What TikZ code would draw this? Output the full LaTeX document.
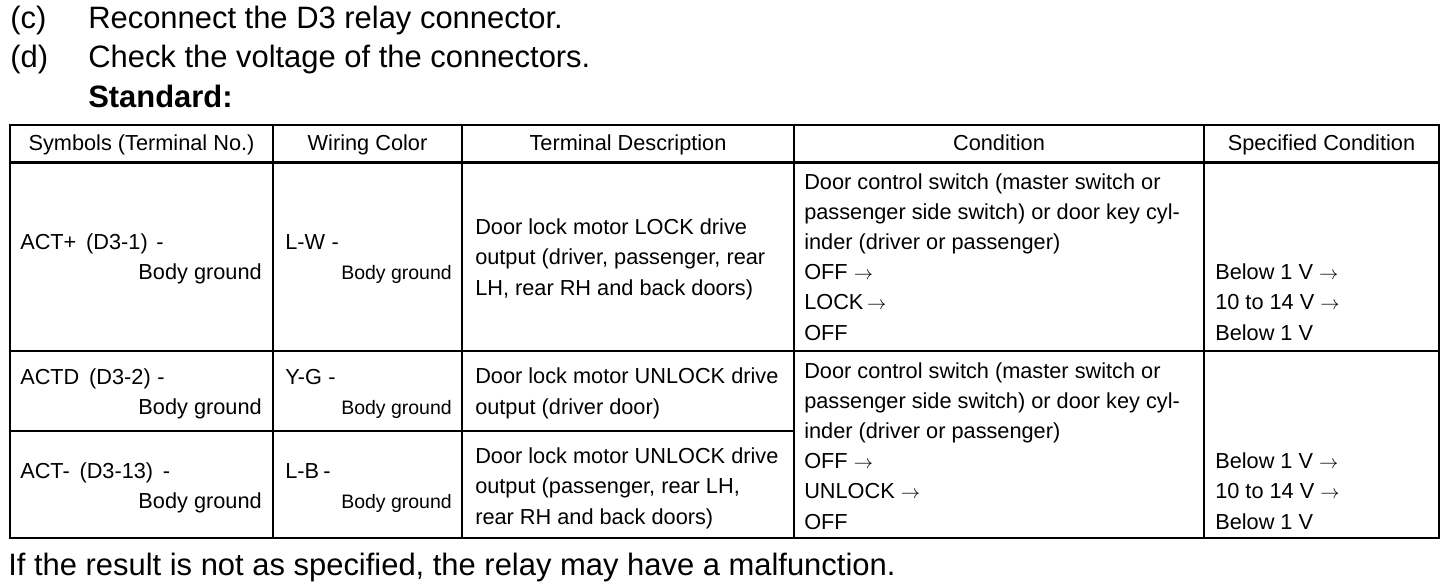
\documentclass[tikz,border=0pt]{standalone}
\usepackage{fontspec}
\setmainfont{Liberation Sans}
\usetikzlibrary{positioning}
\newcommand{\arr}{{\fontsize{13.5}{13.5}\selectfont$\rightarrow$}}
\begin{document}
\begin{tikzpicture}
            [x = 0.75pt, y = -0.75pt,
             big/.style = {anchor = base west, inner sep = 0pt, font = \fontsize{23.2}{29}\selectfont},
             cell/.style = {anchor = base west, inner sep = 0pt, align = left, font = \fontsize{16.3}{22.65}\selectfont},
             gnd/.style = {anchor = base east, inner sep = 0pt, font = \fontsize{16.3}{22.65}\selectfont},
             sgnd/.style = {anchor = base east, inner sep = 0pt, font = \fontsize{14.6}{22.65}\selectfont},
             head/.style = {anchor = base, inner sep = 0pt, font = \fontsize{16.3}{22.65}\selectfont},
             rule/.style = {line width = 1.8pt}]
            \useasboundingbox (0,0) rectangle (1456,588);
            % instructions
            \node[big] (c) at (10,29) {(c)};
            \node[big] (ctext) at (88,29) {Reconnect the D3 relay connector.};
            \node[big] (d) at (10,68) {(d)};
            \node[big] (dtext) at (88,68) {Check the voltage of the connectors.};
            \node[big, font = \fontsize{23.2}{29}\selectfont\bfseries] (std) at (88,108) {Standard:};
            % table
            \draw[rule] (10,125) rectangle (1439,538);
            \draw[rule] (10,162.5) -- (1439,162.5);
            \draw[rule] (10,351) -- (1439,351);
            \draw[rule] (10,431) -- (794,431);
            \foreach \x in {273, 462, 794, 1204}
                \draw[rule] (\x,125) -- (\x,538);
            % header
            \node[head] (h1) at (141.5,151) {Symbols (Terminal No.)};
            \node[head] (h2) at (367.5,151) {Wiring Color};
            \node[head] (h3) at (628,151) {Terminal Description};
            \node[head] (h4) at (999,151) {Condition};
            \node[head] (h5) at (1321.5,151) {Specified Condition};
            % row 1 (multi-line cells sit on their last baseline)
            \node[cell] (s1) at (20,249) {ACT+\hspace{0.45em}(D3-1)\hspace{0.4em}-};
            \node[gnd] (s1g) at (262,279) {Body ground};
            \node[cell] (w1) at (285,249) {L-W\hspace{0.3em}-};
            \node[sgnd] (w1g) at (452,279) {Body ground};
            \node[cell] (d1) at (475,295) {Door lock motor LOCK drive\\output (driver, passenger, rear\\LH, rear RH and back doors)};
            \node[cell] (c1) at (804,340) {Door control switch (master switch or\\passenger side switch) or door key cyl-\\inder (driver or passenger)\\OFF~\arr\\LOCK\,\arr\\OFF};
            \node[cell] (v1) at (1215,340) {Below 1 V~\arr\\10 to 14 V~\arr\\Below 1 V};
            % row 2
            \node[cell] (s2) at (20,384) {ACTD\hspace{0.45em}(D3-2)\hspace{0.3em}-};
            \node[gnd] (s2g) at (262,414) {Body ground};
            \node[cell] (w2) at (285,384) {Y-G\hspace{0.3em}-};
            \node[sgnd] (w2g) at (452,414) {Body ground};
            \node[cell] (d2) at (475,414) {Door lock motor UNLOCK drive\\output (driver door)};
            \node[cell] (c2) at (804,529) {Door control switch (master switch or\\passenger side switch) or door key cyl-\\inder (driver or passenger)\\OFF~\arr\\UNLOCK~\arr\\OFF};
            \node[cell] (v2) at (1215,529) {Below 1 V~\arr\\10 to 14 V~\arr\\Below 1 V};
            % row 3
            \node[cell] (s3) at (20,478) {ACT-\hspace{0.45em}(D3-13)\hspace{0.45em}-};
            \node[gnd] (s3g) at (262,508) {Body ground};
            \node[cell] (w3) at (285,478) {L-B\hspace{0.2em}-};
            \node[sgnd] (w3g) at (452,508) {Body ground};
            \node[cell] (d3) at (475,524) {Door lock motor UNLOCK drive\\output (passenger, rear LH,\\rear RH and back doors)};
            % note
            \node[big] (note) at (8,575) {If the result is not as specified, the relay may have a malfunction.};
        \end{tikzpicture}
\end{document}
